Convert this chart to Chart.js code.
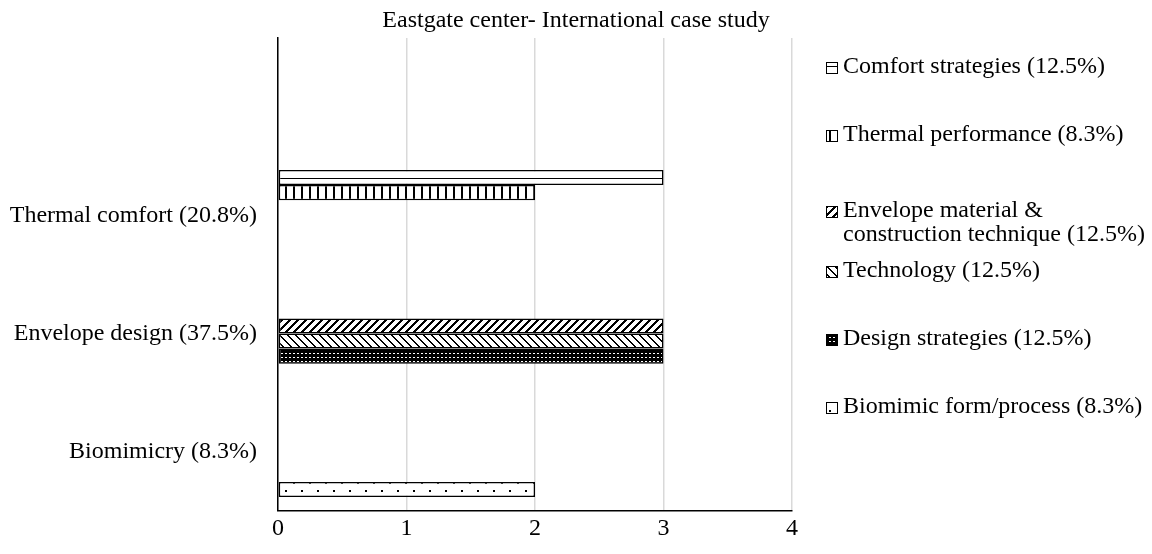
<!DOCTYPE html>
<html>
<head>
<meta charset="utf-8">
<script src="https://cdn.jsdelivr.net/npm/chart.js@4/dist/chart.umd.min.js"></script>
<style>
  html,body{margin:0;padding:0;background:#fff;}
</style>
</head>
<body>
<canvas id="chart" width="1152" height="554"></canvas>
<script>
// categories, top to bottom (the first one is the empty band Excel left on top)
const categories = ["", "Thermal comfort (20.8%)", "Envelope design (37.5%)", "Biomimicry (8.3%)"];
const chartTitle = "Eastgate center- International case study";
const xTicks = [0, 1, 2, 3, 4];

const seriesNames = [
  ["Comfort strategies (12.5%)"],
  ["Thermal performance (8.3%)"],
  ["Envelope material &", "construction technique (12.5%)"],
  ["Technology (12.5%)"],
  ["Design strategies (12.5%)"],
  ["Biomimic form/process (8.3%)"]
];
const comfortStrategies   = [null, 3, null, null];
const thermalPerformance  = [null, 2, null, null];
const envelopeMaterial    = [null, null, 3, null];
const technology          = [null, null, 3, null];
const designStrategies    = [null, null, 3, null];
const biomimicForm        = [null, null, null, 2];
const seriesKinds = ["hline", "vline", "updiag", "downdiag", "darkdots", "dots"];

// little fill tiles, roughly the excel hatch patterns
function makeTile(kind){
  const n = kind === "dots" ? 16 : 8;
  const t = document.createElement("canvas");
  t.width = n; t.height = n;
  const g = t.getContext("2d");
  g.fillStyle = "#fff"; g.fillRect(0,0,n,n);
  g.fillStyle = "#000";
  if(kind === "hline"){ g.fillRect(0,2,8,1); }
  if(kind === "vline"){ g.fillRect(5,0,2,8); }
  for(let y=0;y<n;y++){
    for(let x=0;x<n;x++){
      if(kind === "updiag" && (x+y)%8 < 3){ g.fillRect(x,y,1,1); }
      if(kind === "downdiag" && (x-y+16)%8 < 2){ g.fillRect(x,y,1,1); }
    }
  }
  if(kind === "darkdots"){
    g.fillStyle = "#000"; g.fillRect(0,0,8,8);
    g.fillStyle = "#fff";
    g.fillRect(1,1,2,1); g.fillRect(5,1,2,1); g.fillRect(1,5,2,1); g.fillRect(5,5,2,1);
  }
  if(kind === "dots"){ g.fillRect(5,2,2,2); g.fillRect(13,10,2,2); }
  return t;
}

const canvas = document.getElementById("chart");
const ctx = canvas.getContext("2d");
const patterns = seriesKinds.map(k => ctx.createPattern(makeTile(k), "repeat"));
const seriesData = [comfortStrategies, thermalPerformance, envelopeMaterial, technology, designStrategies, biomimicForm];

const font = "'Liberation Serif', 'Times New Roman', serif";
Chart.defaults.font.family = font;
Chart.defaults.font.size = 24;
Chart.defaults.color = "#000";

// title + excel style legend on the right
const sideLegend = {
  id: "sideLegend",
  afterDraw(chart){
    const c = chart.ctx;
    c.save();
    c.font = "24px " + font;
    c.fillStyle = "#000";
    c.textBaseline = "middle";
    c.textAlign = "center";
    c.fillText(chartTitle, 576, 20.5);
    c.textAlign = "left";
    seriesNames.forEach((lines, i) => {
      let y = 67 + i*68;
      if(lines.length > 1) y += 8;
      c.fillStyle = patterns[i];
      c.fillRect(826, y-5, 12, 12);
      c.strokeStyle = "#000"; c.lineWidth = 1;
      c.strokeRect(826.5, y-4.5, 11, 11);
      c.fillStyle = "#000";
      lines.forEach((ln, j) => c.fillText(ln, 843, y + j*24));
    });
    c.restore();
  }
};

new Chart(canvas, {
  type: "bar",
  data: {
    labels: categories,
    datasets: seriesData.map((d, i) => ({
      label: seriesNames[i].join(" "),
      data: d,
      backgroundColor: patterns[i],
      borderColor: "#000",
      borderWidth: 1.5,
      borderSkipped: false,
      categoryPercentage: 0.767,
      barPercentage: 1
    }))
  },
  options: {
    indexAxis: "y",
    responsive: false,
    animation: false,
    devicePixelRatio: 1,
    layout: { padding: { top: 38, right: 360, left: 0, bottom: 0 } },
    plugins: { legend: { display: false }, title: { display: false }, tooltip: { enabled: false } },
    scales: {
      x: {
        min: xTicks[0], max: xTicks[xTicks.length-1],
        ticks: { stepSize: 1, padding: 4 },
        grid: { color: "#d9d9d9", lineWidth: 1.5, drawTicks: false },
        border: { color: "#000", width: 1.5 },
        afterFit: s => { s.height = 43.2; }
      },
      y: {
        ticks: { padding: 21 },
        grid: { display: false, drawTicks: false },
        border: { color: "#000", width: 1.5 },
        afterFit: s => { s.width = 278; }
      }
    }
  },
  plugins: [sideLegend]
});
</script>
</body>
</html>
